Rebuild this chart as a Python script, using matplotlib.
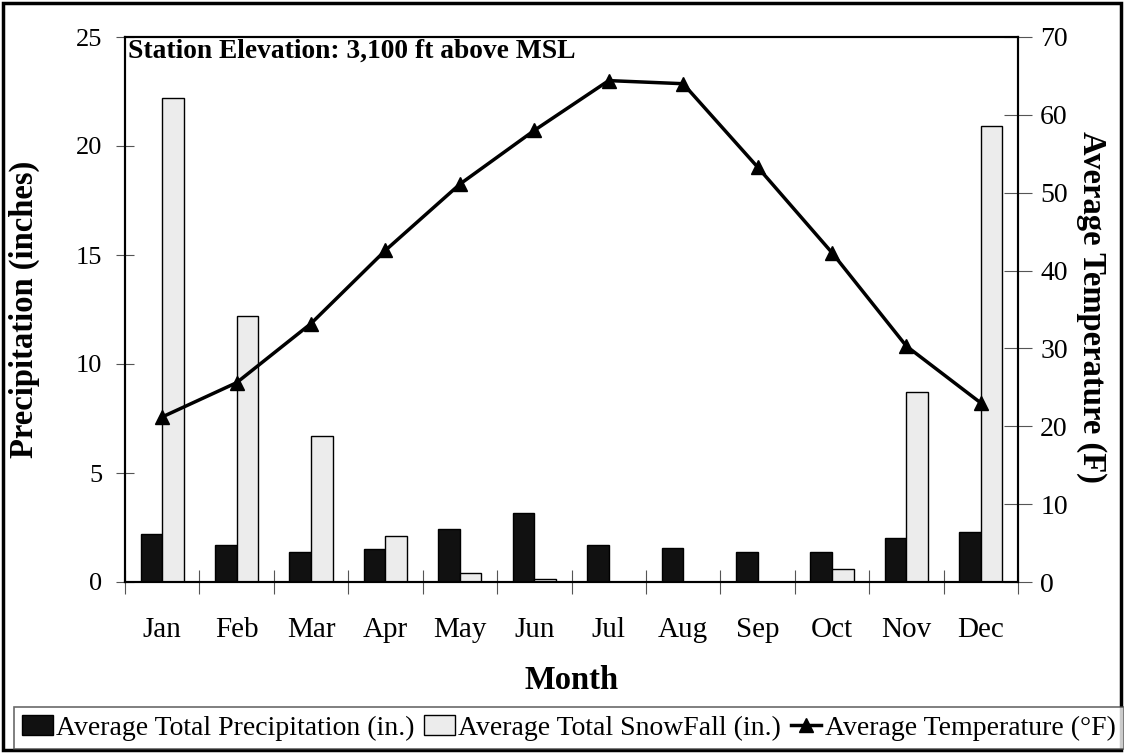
import numpy as np
import matplotlib
matplotlib.use('Agg')
import matplotlib.pyplot as plt
from matplotlib.patches import Rectangle

plt.rcParams['font.family'] = ['Liberation Serif', 'DejaVu Serif']

months = ['Jan', 'Feb', 'Mar', 'Apr', 'May', 'Jun', 'Jul', 'Aug', 'Sep', 'Oct', 'Nov', 'Dec']
precip = [2.2, 1.7, 1.38, 1.52, 2.44, 3.16, 1.71, 1.58, 1.38, 1.36, 2.03, 2.3]
snow = [22.2, 12.2, 6.72, 2.12, 0.43, 0.12, 0, 0, 0, 0.61, 8.72, 20.9]
temp = [21.2, 25.6, 33.2, 42.6, 51.1, 58.0, 64.4, 64.0, 53.3, 42.3, 30.3, 23.0]

fig = plt.figure(figsize=(11.24, 7.53), dpi=100)
ax = fig.add_axes([125/1124, 1 - 582/753, 893/1124, 545/753])
ax2 = ax.twinx()

x = np.arange(len(months))
w = 0.29
b1 = ax.bar(x - w/2, precip, w, color='#111111', edgecolor='black', linewidth=1,
            label='Average Total Precipitation (in.)')
b2 = ax.bar(x + w/2, snow, w, color='#ececec', edgecolor='black', linewidth=1,
            label='Average Total SnowFall (in.)')
l1, = ax2.plot(x, temp, color='black', linewidth=2.5, marker='^', markersize=10,
               label='Average Temperature (°F)')

ax.set_xlim(-0.5, 11.5)
ax.set_ylim(0, 25)
ax2.set_ylim(0, 70)
ax.set_yticks([0, 5, 10, 15, 20, 25])
ax2.set_yticks(range(0, 71, 10))

# ticks sit between months, labels in the middle
ax.set_xticks(np.arange(-0.5, 12, 1))
ax.set_xticklabels([])
ax.set_xticks(x, minor=True)
ax.set_xticklabels(months, minor=True, fontsize=21)
ax.tick_params(axis='x', which='minor', length=0, pad=25)
ax.tick_params(axis='x', which='major', direction='inout', length=17, color='#555555')
ax.tick_params(axis='y', direction='inout', length=13, color='#555555', labelsize=19, pad=10)
ax2.tick_params(axis='y', direction='inout', length=20, color='#555555', labelsize=20, pad=6)

for s in ax.spines.values():
    s.set_linewidth(1.5)
for s in ax2.spines.values():
    s.set_linewidth(1.5)

ax.set_xlabel('Month', fontsize=23.5, fontweight='bold')
ax.xaxis.set_label_coords(0.5, -0.152)
ax.set_ylabel('Precipitation (inches)', fontsize=23.5, fontweight='bold')
ax.yaxis.set_label_coords(-0.095, 0.5)
ax2.set_ylabel('Average Temperature (F)', fontsize=23.5, fontweight='bold', rotation=-90, va='center')
ax2.yaxis.set_label_coords(1.082, 0.505)

ax.text(0.003, 0.997, 'Station Elevation: 3,100 ft above MSL', transform=ax.transAxes,
        fontsize=19.8, fontweight='bold', va='top', ha='left')

leg = fig.legend(handles=[b1, b2, l1], loc='lower left', ncol=3, fontsize=20,
                 bbox_to_anchor=(14/1124, 4/753), frameon=True, fancybox=False,
                 handlelength=1.1, handletextpad=0.12, columnspacing=0.35,
                 borderpad=0.3, borderaxespad=0)
leg.get_frame().set_edgecolor('#444444')
leg.get_frame().set_linewidth(1.2)

fig.patches.append(Rectangle((3/1124, 3/753), 1118/1124, 747/753, transform=fig.transFigure,
                             fill=False, edgecolor='black', linewidth=2.5))

fig.savefig('out.png', dpi=100)
